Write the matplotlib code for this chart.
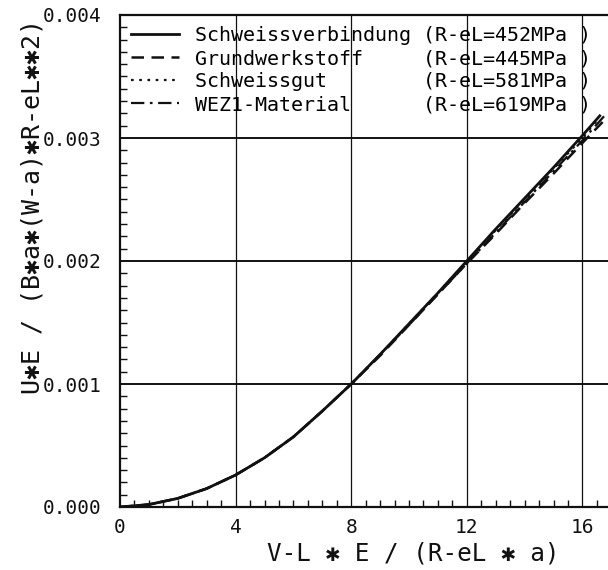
import matplotlib.pyplot as plt
from matplotlib.ticker import MultipleLocator

# ===========================
# DATA
# ===========================
x_weld = [0, 1, 2, 3, 4, 5, 6, 7, 8, 9, 10, 11, 12, 13, 14, 15, 16, 16.6]
y_weld = [0, 0.00002, 0.00007, 0.00015, 0.00026, 0.00040, 0.00057, 0.00078, 0.00100,
          0.00124, 0.00149, 0.00174, 0.00200, 0.00226, 0.00251, 0.00276, 0.00302, 0.00318]

x_base = [0, 1, 2, 3, 4, 5, 6, 7, 8, 9, 10, 11, 12, 13, 14, 15, 16, 16.7]
y_base = [0, 0.00002, 0.00007, 0.00015, 0.00026, 0.00040, 0.00057, 0.00078, 0.00100,
          0.00123, 0.00148, 0.00173, 0.00198, 0.00222, 0.00247, 0.00271, 0.00296, 0.00313]

x_gut = [0, 1, 2, 3, 4, 5, 6, 7, 8, 9, 10, 11, 12, 13, 14, 15, 16, 16.5]
y_gut = [0, 0.00002, 0.00007, 0.00015, 0.00026, 0.00040, 0.00057, 0.00078, 0.00100,
         0.00124, 0.00149, 0.00174, 0.00200, 0.00225, 0.00250, 0.00275, 0.00300, 0.00314]

x_wez = [0, 1, 2, 3, 4, 5, 6, 7, 8, 9, 10, 11, 12, 13, 14, 15, 16, 16.8]
y_wez = [0, 0.00002, 0.00007, 0.00015, 0.00026, 0.00040, 0.00057, 0.00078, 0.00100,
         0.00124, 0.00148, 0.00173, 0.00198, 0.00223, 0.00248, 0.00273, 0.00298, 0.00319]

names = ["Schweissverbindung", "Grundwerkstoff", "Schweissgut", "WEZ1-Material"]
yield_labels = ["(R-eL=452MPa )", "(R-eL=445MPa )", "(R-eL=581MPa )", "(R-eL=619MPa )"]

x_ticks = [0, 4, 8, 12, 16]
y_ticks = [0.000, 0.001, 0.002, 0.003, 0.004]

# ===========================
# PLOT
# ===========================
plt.rcParams['font.family'] = ['DejaVu Sans Mono', 'DejaVu Sans']

fig = plt.figure(figsize=(6.08, 5.70), dpi=100)
ax = fig.add_axes([120 / 608, 63 / 570, 578 / 608, 492 / 570])

ink = "#111111"
ax.plot(x_weld, y_weld, color=ink, lw=2.0, ls="-")
ax.plot(x_base, y_base, color=ink, lw=1.8, ls=(0, (5, 3)))
ax.plot(x_gut, y_gut, color=ink, lw=1.6, ls=(0, (1.2, 2.5)))
ax.plot(x_wez, y_wez, color=ink, lw=1.6, ls=(0, (6, 2.5, 1.2, 2.5)))

ax.set_xlim(0, 20)
ax.set_ylim(0, 0.004)

ax.set_xticks(x_ticks)
ax.set_yticks(y_ticks)
ax.set_yticklabels([f"{v:.3f}" for v in y_ticks])
ax.xaxis.set_minor_locator(MultipleLocator(0.5))
ax.yaxis.set_minor_locator(MultipleLocator(0.0001))

ax.tick_params(which="major", length=0, labelsize=14, colors=ink)
ax.tick_params(axis="y", which="major", pad=13)
ax.tick_params(axis="x", which="major", pad=8)
ax.tick_params(which="minor", direction="in", length=5, width=1.0, color=ink)
ax.tick_params(top=False, right=False, which="both")

for v in x_ticks[1:]:
    ax.axvline(v, color=ink, lw=0.9)
for v in y_ticks[1:-1]:
    ax.axhline(v, color=ink, lw=1.4)

for s in ax.spines.values():
    s.set_color(ink)
    s.set_linewidth(1.6)

labels = [f"{n:<19}{v}" for n, v in zip(names, yield_labels)]
ax.legend(ax.lines, labels, loc="upper left", bbox_to_anchor=(0.012, 0.985),
          frameon=False, fontsize=14.4, handlelength=2.4, handletextpad=0.8,
          labelspacing=0.2, borderpad=0.2, borderaxespad=0)

fig.text(33 / 608, 1 - 207 / 570, "U\u2731E / (B\u2731a\u2731(W-a)\u2731R-eL\u2731\u27312)",
         rotation=90, ha="center", va="center", fontsize=18, color=ink)
fig.text(413 / 608, 1 - 554 / 570, "V-L \u2731 E / (R-eL \u2731 a)",
         ha="center", va="center", fontsize=17.5, color=ink)

fig.savefig("out.png", dpi=100)
